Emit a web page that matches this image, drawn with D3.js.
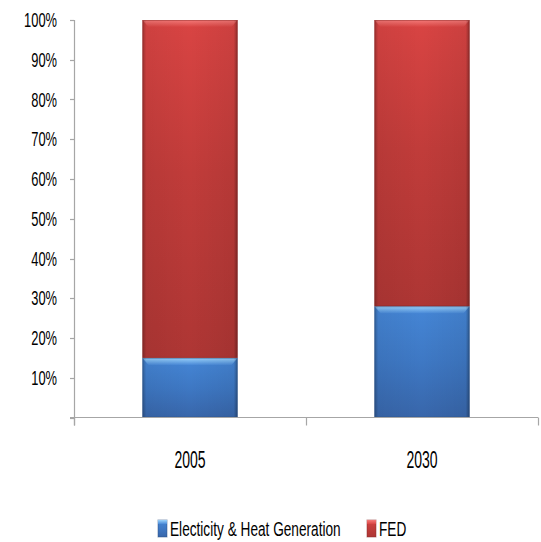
<!DOCTYPE html>
<html>
<head>
<meta charset="utf-8">
<script src="https://cdn.jsdelivr.net/npm/d3@7/dist/d3.min.js"></script>
<style>
  html, body { margin: 0; padding: 0; background: #fff; }
  svg { display: block; }
  text { font-family: "Liberation Sans", Arial, sans-serif; fill: #000; }
</style>
</head>
<body>
<svg id="chart" width="541" height="542"></svg>
<script>
// Share of each sector, per year (fractions of the total)
const years = ["2005", "2030"];
const electricity = [0.15, 0.28];
const fed = [0.85, 0.72];
const seriesNames = ["Electicity & Heat Generation", "FED"];
const yTicks = [0, 0.1, 0.2, 0.3, 0.4, 0.5, 0.6, 0.7, 0.8, 0.9, 1.0];

const svg = d3.select("#chart");
const plotLeft = 74, plotRight = 538, plotTop = 20, plotBottom = 417.5;
const axisColor = "#a6a6a6";

const x = d3.scaleBand().domain(years).range([plotLeft, plotRight]).paddingInner(0.59).paddingOuter(0.295);
const step = x.step();
const y = d3.scaleLinear().domain([0, 1]).range([plotBottom, plotTop]);

// Narrow text: squeeze a label horizontally around its anchor point
function narrowText(sel, px, py, sx) {
  sel.attr("x", 0).attr("y", 0).attr("transform", `translate(${px},${py}) scale(${sx},1)`);
  return sel;
}

// Gradients for the bevelled bar look
const defs = svg.append("defs");
function vGrad(id, stops) {
  const g = defs.append("linearGradient").attr("id", id).attr("x1", 0).attr("y1", 0).attr("x2", 0).attr("y2", 1);
  stops.forEach(s => g.append("stop").attr("offset", s[0]).attr("stop-color", s[1]));
}
function hGrad(id, stops) {
  const g = defs.append("linearGradient").attr("id", id).attr("x1", 0).attr("y1", 0).attr("x2", 1).attr("y2", 0);
  stops.forEach(s => g.append("stop").attr("offset", s[0]).attr("stop-color", s[1][0]).attr("stop-opacity", s[1][1]));
}
vGrad("redBody", [[0, "#d94443"], [0.45, "#c13c3a"], [1, "#ae3634"]]);
vGrad("blueBody", [[0, "#4586d6"], [0.5, "#3e78c4"], [1, "#3866aa"]]);
vGrad("redTop", [[0, "#f47a78"], [1, "#d94443"]]);
vGrad("blueTop", [[0, "#9ad2fb"], [1, "#4a8ad8"]]);
hGrad("edgeShade", [[0, ["#000", 0.28]], [0.04, ["#000", 0.05]], [0.5, ["#000", 0]], [0.96, ["#000", 0.06]], [1, ["#000", 0.35]]]);

// Stacked segments
const stacked = years.map((yr, i) => ([
  { year: yr, name: seriesNames[0], y0: 0, y1: electricity[i], body: "blueBody", cap: "blueTop", stroke: "#2c5283" },
  { year: yr, name: seriesNames[1], y0: electricity[i], y1: electricity[i] + fed[i], body: "redBody", cap: "redTop", stroke: "#8a2a28" }
])).flat();

const bars = svg.append("g");
stacked.forEach(d => {
  const x0 = x(d.year), w = x.bandwidth();
  const yt = y(d.y1), h = y(d.y0) - y(d.y1);
  const g = bars.append("g");
  g.append("rect").attr("x", x0).attr("y", yt).attr("width", w).attr("height", h)
    .attr("fill", `url(#${d.body})`);
  // highlight strip at the top edge of each segment
  g.append("path")
    .attr("d", `M${x0},${yt} L${x0 + w},${yt} L${x0 + w - 6},${yt + 7} L${x0 + 6},${yt + 7} Z`)
    .attr("fill", `url(#${d.cap})`);
  g.append("rect").attr("x", x0).attr("y", yt).attr("width", w).attr("height", h)
    .attr("fill", "url(#edgeShade)");
  g.append("rect").attr("x", x0 + 0.5).attr("y", yt + 0.5).attr("width", w - 1).attr("height", h - 1)
    .attr("fill", "none").attr("stroke", d.stroke).attr("stroke-opacity", 0.45).attr("stroke-width", 1);
});

// Y axis
const yAxis = svg.append("g");
yAxis.append("line").attr("x1", plotLeft + 0.5).attr("x2", plotLeft + 0.5).attr("y1", plotTop).attr("y2", plotBottom + 8)
  .attr("stroke", axisColor).attr("stroke-width", 1.2);
yTicks.forEach(t => {
  yAxis.append("line").attr("x1", plotLeft - 4).attr("x2", plotLeft).attr("y1", Math.round(y(t)) + 0.5).attr("y2", Math.round(y(t)) + 0.5)
    .attr("stroke", axisColor).attr("stroke-width", 1.2);
  if (t > 0) {
    const lbl = yAxis.append("text")
      .attr("text-anchor", "end")
      .attr("font-size", 19.5)
      .text(d3.format(".0%")(t));
    narrowText(lbl, 57, y(t) + 7, 0.66);
  }
});

// X axis
const xAxis = svg.append("g");
xAxis.append("line").attr("x1", plotLeft - 4).attr("x2", plotRight).attr("y1", plotBottom).attr("y2", plotBottom)
  .attr("stroke", axisColor).attr("stroke-width", 1.2);
d3.range(years.length + 1).forEach(i => {
  const xt = plotLeft + i * step;
  xAxis.append("line").attr("x1", xt + 0.5).attr("x2", xt + 0.5).attr("y1", plotBottom).attr("y2", plotBottom + 8)
    .attr("stroke", axisColor).attr("stroke-width", 1.2);
});
years.forEach(yr => {
  const lbl = xAxis.append("text")
    .attr("text-anchor", "middle")
    .attr("font-size", 23)
    .text(yr);
  narrowText(lbl, x(yr) + x.bandwidth() / 2, 468, 0.61);
});

// Legend
const legend = svg.append("g");
const legendItems = [
  { name: seriesNames[0], x: 158, body: "blueBody", cap: "blueTop", stroke: "#2c5283" },
  { name: seriesNames[1], x: 367, body: "redBody", cap: "redTop", stroke: "#8a2a28" }
];
legendItems.forEach(it => {
  legend.append("rect").attr("x", it.x).attr("y", 520).attr("width", 9).attr("height", 17)
    .attr("fill", `url(#${it.body})`).attr("stroke", it.stroke).attr("stroke-opacity", 0.5);
  legend.append("rect").attr("x", it.x).attr("y", 520).attr("width", 9).attr("height", 4)
    .attr("fill", `url(#${it.cap})`);
  const lbl = legend.append("text")
    .attr("font-size", 19.5)
    .text(it.name);
  narrowText(lbl, it.x + 12, 536, 0.7);
});
</script>
</body>
</html>
